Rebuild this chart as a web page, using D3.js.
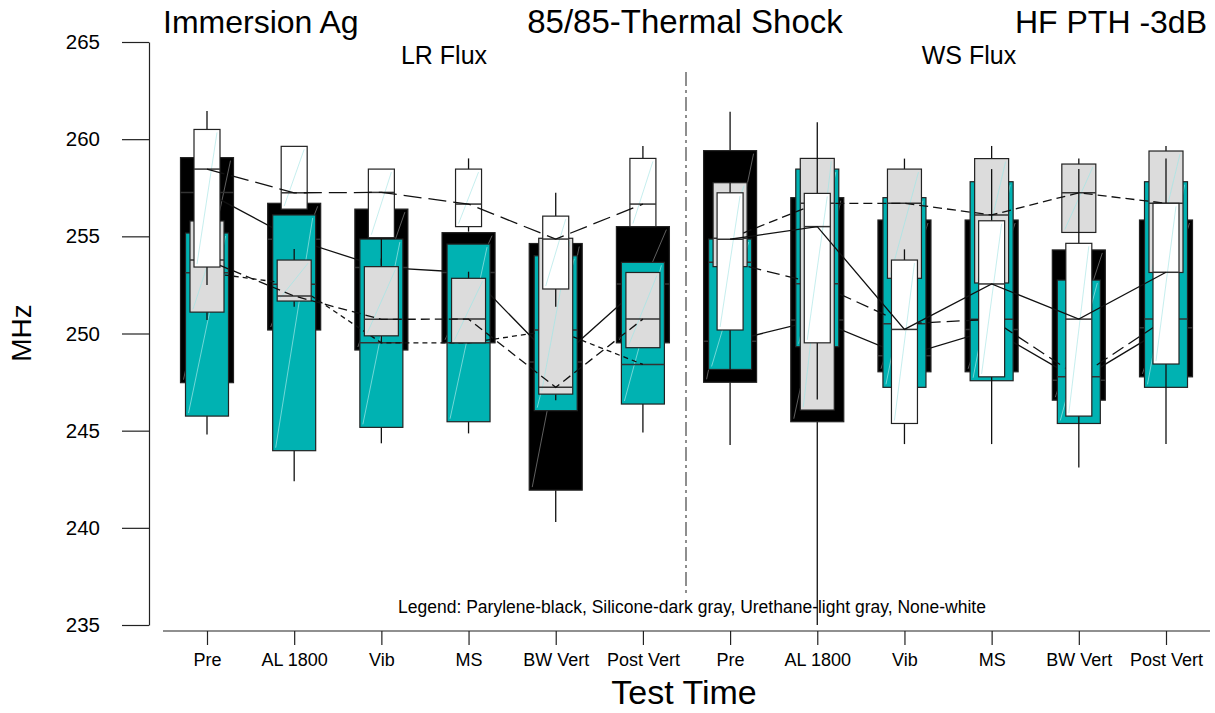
<!DOCTYPE html>
<html><head><meta charset="utf-8">
<script src="https://cdn.jsdelivr.net/npm/d3@7"></script>
<style>body{margin:0;background:#fff}svg{display:block;font-family:"Liberation Sans",Arial,sans-serif}</style>
</head><body><svg id="c" width="1215" height="713"></svg>
<script>
// ---------- data ----------
const categories = ["Pre","AL 1800","Vib","MS","BW Vert","Post Vert","Pre","AL 1800","Vib","MS","BW Vert","Post Vert"];
const panels = ["LR Flux","WS Flux"];
const yTicks = [235,240,245,250,255,260,265];
const titles = ["Immersion Ag","85/85-Thermal Shock","HF PTH -3dB"];
const legendText = "Legend: Parylene-black, Silicone-dark gray, Urethane-light gray, None-white";

// Parylene (black)
const parLow  = [247.47,250.18,249.15,249.52,240.3,249.52, 244.26,235.0,248.03,248.03,246.57,247.77];
const parQ1   = [247.47,250.18,249.15,249.52,241.94,249.52, 247.49,245.46,248.03,248.03,246.57,247.77];
const parMed  = [257.25,254.85,253.4,253.14,248.53,252.55, 249.6,250.7,248.85,250.2,247.6,250.3];
const parQ3   = [259.05,256.7,256.4,255.19,254.63,255.5, 259.41,256.99,255.84,255.84,254.3,255.84];
const parHigh = [259.05,256.7,256.4,255.19,254.63,255.5, 261.41,256.99,255.84,255.84,254.3,255.84];
// Silicone (dark gray / teal)
const silLow  = [244.8,242.4,244.35,244.86,246.03,244.9, 248.15,249.32,247.23,247.57,245.37,247.23];
const silQ1   = [245.75,243.97,245.17,245.46,246.03,246.37, 248.15,249.32,247.23,247.57,245.37,247.23];
const silMed  = [253.13,252.53,249.52,249.52,250.18,248.41, 253.67,252.56,250.5,250.73,247.77,250.74];
const silQ3   = [255.17,256.1,254.86,254.6,254.0,253.66, 254.86,258.46,256.99,257.81,252.75,257.81];
const silHigh = [255.17,256.1,254.86,254.6,254.0,253.66, 254.86,258.46,256.99,257.81,252.75,257.81];
// Urethane (light gray)
const ureLow  = [250.7,251.38,249.5,249.52,246.57,249.27, 253.44,246.06,252.84,252.6,255.2,253.14];
const ureQ1   = [251.1,251.67,249.88,249.52,246.88,249.27, 253.44,246.06,252.84,252.6,255.2,253.14];
const ureMed  = [253.78,251.93,250.73,250.74,247.23,250.74, 254.9,256.7,256.7,256.1,257.24,256.7];
const ureQ3   = [255.79,253.78,253.44,252.84,254.9,253.14, 257.76,259.01,258.46,259.0,258.72,259.39];
const ureHigh = [255.79,254.35,253.86,253.18,254.9,253.14, 257.76,259.01,259.0,259.65,259.0,259.65];
// None (white)
const nonLow  = [252.5,256.4,253.5,255.24,251.38,255.5, 248.15,246.6,244.31,244.31,243.1,244.31];
const nonQ1   = [253.42,256.4,254.93,255.5,252.29,255.5, 250.18,249.52,245.37,247.77,245.75,248.43];
const nonMed  = [258.46,257.24,257.26,256.66,254.86,256.66, 254.85,255.5,250.21,252.55,250.74,253.15];
const nonQ3   = [260.5,259.63,258.46,258.46,256.04,259.01, 257.24,257.21,253.78,255.8,254.64,256.7];
const nonHigh = [261.45,259.63,258.46,259.01,257.24,259.65, 257.76,260.87,254.33,258.46,258.46,259.0];

// ---------- styles ----------
const series = [
  {low:parLow,q1:parQ1,med:parMed,q3:parQ3,high:parHigh, fill:"#000000", w:53, diag:"#777", dash:[null,null]},
  {low:silLow,q1:silQ1,med:silMed,q3:silQ3,high:silHigh, fill:"#00b2b2", w:43, diag:"#8ee0e0", dash:["5,4","13,6"]},
  {low:ureLow,q1:ureQ1,med:ureMed,q3:ureQ3,high:ureHigh, fill:"#dcdcdc", w:34, diag:"#a8e4e4", dash:["9,5","9,5"]},
  {low:nonLow,q1:nonQ1,med:nonMed,q3:nonQ3,high:nonHigh, fill:"#ffffff", w:26, diag:"#b8eaea", dash:["18,7",null]}
];

const svg = d3.select("#c");
const FONT = "Liberation Sans, Arial, sans-serif";
const x = d3.scalePoint().domain(d3.range(categories.length)).range([207,1166]);
const y = d3.scaleLinear().domain([235,265]).range([625,42]);

// y axis
svg.append("g").attr("transform","translate(149,0)")
  .call(d3.axisLeft(y).tickValues(yTicks).tickSize(27).tickSizeOuter(0).tickPadding(22))
  .call(g=>g.attr("font-family",FONT).attr("font-size",20.5))
  .call(g=>g.selectAll("line,path").attr("stroke","#222").attr("stroke-width",1.2))
  .call(g=>g.selectAll("text").attr("fill","#000"));

// x axis
svg.append("line").attr("x1",163).attr("x2",1210).attr("y1",631).attr("y2",631).attr("stroke","#222").attr("stroke-width",1.2);
svg.append("g").attr("transform","translate(0,631)")
  .call(d3.axisBottom(x).tickSize(14).tickPadding(8).tickFormat(i=>categories[i]))
  .call(g=>g.select(".domain").remove())
  .call(g=>g.attr("font-family",FONT).attr("font-size",18))
  .call(g=>g.selectAll("line").attr("stroke","#222").attr("stroke-width",1.2))
  .call(g=>g.selectAll("text").attr("fill","#000"));

// divider
svg.append("line").attr("x1",686).attr("x2",686).attr("y1",72).attr("y2",596)
  .attr("stroke","#444").attr("stroke-width",1.2).attr("stroke-dasharray","14,4,3,4");

const plot = svg.append("g");
const idx = d3.range(categories.length);
const panelIdx = [idx.slice(0,6), idx.slice(6,12)];

series.forEach(s=>{
  const g = plot.append("g");
  idx.forEach(i=>{
    const cx = x(i), x0 = cx - s.w/2, x1 = cx + s.w/2;
    const yq1 = y(s.q1[i]), yq3 = y(s.q3[i]);
    g.append("line").attr("x1",cx).attr("x2",cx).attr("y1",yq3).attr("y2",y(s.high[i])).attr("stroke","#111").attr("stroke-width",1.3);
    g.append("line").attr("x1",cx).attr("x2",cx).attr("y1",yq1).attr("y2",y(s.low[i])).attr("stroke","#111").attr("stroke-width",1.3);
    g.append("rect").attr("x",x0).attr("y",yq3).attr("width",s.w).attr("height",yq1-yq3)
      .attr("fill",s.fill).attr("stroke","#222").attr("stroke-width",1.2);
    g.append("line").attr("x1",x0+3).attr("y1",yq1-3).attr("x2",x1-3).attr("y2",yq3+3)
      .attr("stroke",s.diag).attr("stroke-width",0.8);
    g.append("line").attr("x1",x0).attr("x2",x1).attr("y1",y(s.med[i])).attr("y2",y(s.med[i]))
      .attr("stroke","#333").attr("stroke-width",1.5);
  });
  panelIdx.forEach((pi,p)=>{
    const line = d3.line().x(i=>x(i)).y(i=>y(s.med[i]));
    const path = g.append("path").attr("d",line(pi)).attr("fill","none").attr("stroke","#111").attr("stroke-width",1.3);
    if (s.dash[p]) path.attr("stroke-dasharray",s.dash[p]);
  });
});

// texts
const T = (t,xx,yy,size,anchor)=>svg.append("text").text(t).attr("x",xx).attr("y",yy)
  .attr("font-family",FONT).attr("font-size",size).attr("text-anchor",anchor||"middle").attr("fill","#000");
T(titles[0],163,33,32,"start");
T(titles[1],685,33,33,"middle");
T(titles[2],1207,33,32,"end");
T(panels[0],444,64,25);
T(panels[1],969,64,25);
T(legendText,692,613,17.5);
T("Test Time",684,704,34);
svg.append("text").text("MHz").attr("transform","translate(31,333) rotate(-90)")
  .attr("font-family",FONT).attr("font-size",28).attr("text-anchor","middle").attr("fill","#000");
</script></body></html>
